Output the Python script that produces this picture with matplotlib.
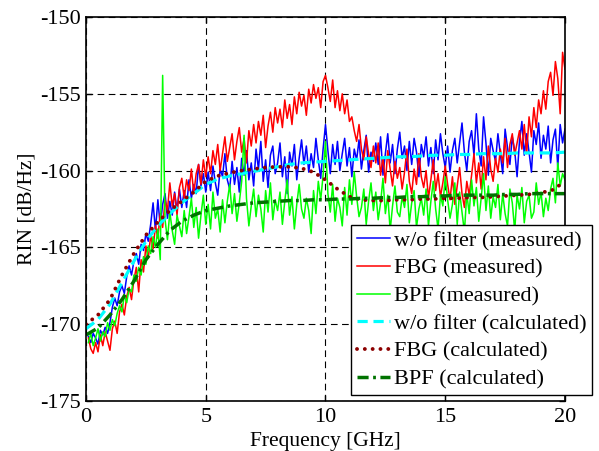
import matplotlib
matplotlib.use("Agg")
import matplotlib.pyplot as plt
import numpy as np

plt.rcParams['font.family'] = ['Liberation Serif', 'DejaVu Serif']
plt.rcParams['axes.unicode_minus'] = False

# измеренные спектры RIN, шаг 0.1 ГГц (0.1 ... 20.0)
f_meas = np.arange(1, 201) / 10.0

rin_wo_meas = [
    -170.8, -171.2, -170.6, -170.9, -171.3, -170.4, -170.7, -170.2, -170.6, -169.9,
    -168.9, -168.3, -168.8, -167.9, -167.5, -168.0, -166.9, -166.2, -166.8, -165.9,
    -165.4, -166.1, -164.8, -165.2, -164.1, -164.6, -163.5, -162.1, -163.9, -161.9,
    -163.6, -162.2, -161.5, -163.1, -162.0, -162.9, -161.4, -162.6, -161.2, -162.4,
    -161.3, -162.4, -160.6, -161.8, -160.9, -161.5, -159.6, -161.0, -160.2, -161.4,
    -160.1, -161.3, -159.7, -160.8, -161.6, -159.9, -160.4, -158.9, -160.6, -161.2,
    -159.4, -160.9, -159.8, -161.4, -159.2, -160.3, -158.7, -160.6, -159.5, -161.0,
    -158.6, -159.9, -158.1, -160.7, -159.3, -161.1, -159.0, -158.4, -160.2, -159.5,
    -158.2, -160.4, -159.1, -161.5, -158.8, -159.7, -158.3, -160.6, -159.2, -158.0,
    -159.6, -158.4, -160.1, -158.9, -159.8, -157.9, -159.3, -160.5, -158.6, -157.0,
    -158.7, -160.2, -158.3, -159.6, -158.1, -160.0, -158.9, -157.9, -159.7, -158.5,
    -160.4, -158.6, -159.3, -158.0, -159.9, -158.7, -157.7, -160.1, -158.8, -159.4,
    -158.2, -159.6, -157.8, -160.3, -158.9, -157.6, -159.5, -158.3, -160.2, -158.6,
    -157.5, -159.2, -158.4, -160.0, -158.1, -159.6, -157.9, -158.8, -160.4, -158.3,
    -159.1, -157.8, -159.7, -158.5, -160.2, -158.0, -159.3, -157.6, -158.9, -159.8,
    -158.4, -160.1, -158.7, -157.9, -159.5, -158.2, -156.9, -158.8, -160.0, -158.1,
    -157.4, -159.0, -156.3, -158.6, -159.7, -156.5, -158.2, -160.3, -157.9, -158.7,
    -159.4, -157.6, -158.9, -160.2, -157.3, -158.5, -159.6, -157.8, -158.7, -160.4,
    -158.1, -156.8, -159.0, -157.6, -158.8, -160.1, -157.4, -158.3, -156.9, -159.2,
    -157.7, -158.6, -157.1, -159.5, -158.0, -157.3, -159.8, -157.0, -158.2, -157.3,
]

rin_fbg_meas = [
    -170.9, -171.6, -171.9, -171.2, -171.8, -170.7, -171.4, -170.5, -171.1, -171.7,
    -170.3, -169.8, -170.6, -169.2, -168.7, -169.4, -168.2, -167.6, -168.4, -167.1,
    -166.3, -167.9, -165.8, -166.6, -164.9, -165.7, -164.2, -165.1, -163.6, -164.4,
    -162.8, -163.7, -161.9, -162.6, -160.8, -162.3, -161.5, -162.9, -161.1, -160.5,
    -161.8, -160.6, -161.3, -159.9, -161.5, -160.2, -159.6, -160.9, -159.3, -160.4,
    -159.1, -160.2, -158.7, -159.6, -158.3, -160.0, -158.9, -157.8, -159.4, -158.5,
    -157.6, -159.3, -158.1, -157.2, -158.8, -157.9, -159.5, -157.4, -158.4, -157.0,
    -158.2, -156.8, -157.7, -156.4, -158.5, -157.1, -156.2, -157.5, -155.9, -156.9,
    -156.0, -157.2, -155.4, -156.6, -155.7, -157.0, -155.2, -156.3, -154.9, -155.8,
    -155.1, -156.4, -154.7, -155.6, -154.4, -155.3, -154.6, -155.9, -154.2, -153.8,
    -154.6, -155.5, -154.1, -155.9, -154.8, -156.1, -155.0, -156.3, -155.4, -156.8,
    -156.5, -157.4, -158.1, -157.0, -158.6, -159.3, -157.8, -158.9, -159.8, -158.4,
    -159.5, -158.2, -160.3, -159.1, -160.8, -158.7, -159.9, -161.0, -159.4, -160.5,
    -159.8, -161.2, -160.1, -158.6, -160.7, -161.5, -159.9, -160.9, -158.9, -160.4,
    -161.1, -160.0, -161.8, -160.6, -159.3, -161.3, -160.2, -161.7, -160.8, -159.7,
    -160.9, -161.9, -160.4, -162.2, -161.0, -159.8, -161.5, -162.4, -160.7, -161.6,
    -160.3, -158.9, -160.8, -159.5, -161.2, -159.1, -160.6, -158.4, -159.9, -160.7,
    -159.2, -160.1, -158.6, -159.5, -157.9, -159.8, -158.3, -157.6, -159.0, -158.2,
    -157.4, -158.6, -157.0, -158.9, -156.5, -157.8, -155.9, -157.2, -155.4, -156.3,
    -154.8, -156.0, -154.2, -153.6, -155.1, -152.9, -154.0, -156.3, -152.3, -153.4,
]

rin_bpf_meas = [
    -171.2, -170.6, -171.4, -170.9, -170.3, -171.1, -170.5, -170.8, -169.9, -170.4,
    -169.7, -170.1, -169.3, -168.8, -169.2, -168.1, -168.6, -167.7, -167.9, -166.8,
    -167.2, -166.3, -166.8, -165.6, -166.1, -164.9, -165.4, -164.3, -165.0, -163.8,
    -165.8, -153.8, -163.2, -164.5, -162.7, -163.9, -164.8, -162.9, -163.6, -164.3,
    -162.6, -164.1, -163.0, -161.8, -163.7, -162.4, -164.4, -162.9, -161.6, -163.5,
    -162.2, -163.8, -161.4, -163.1, -162.5, -164.0, -161.9, -163.4, -162.0, -160.9,
    -162.8, -161.5, -163.3, -162.1, -160.7, -157.7, -161.8, -163.6, -162.3, -161.2,
    -163.0, -161.6, -162.5, -164.0, -161.3, -162.7, -160.8, -163.2, -161.9, -162.6,
    -161.4, -163.5, -162.0, -160.6, -162.9, -161.7, -163.8, -162.2, -160.9, -162.5,
    -163.1, -161.8, -162.6, -164.1, -161.3, -162.8, -160.7, -161.9, -160.3, -158.1,
    -161.5, -162.7, -160.9, -163.3, -161.8, -162.4, -163.6, -161.1, -162.9, -160.6,
    -162.2, -160.1, -161.7, -163.0, -162.4, -161.2, -163.5, -162.0, -160.8, -162.6,
    -161.4, -163.2, -162.1, -160.5, -162.8, -161.6, -163.9, -162.3, -161.0, -162.7,
    -163.0, -161.7, -162.4, -160.9, -163.4, -162.1, -161.3, -163.7, -162.5, -161.8,
    -162.9, -161.2, -163.6, -162.0, -160.7, -162.5, -163.8, -161.6, -162.3, -160.4,
    -161.9, -163.1, -162.2, -160.8, -163.5, -161.4, -162.7, -164.0, -161.5, -162.8,
    -160.6, -162.3, -161.1, -163.3, -161.8, -160.2, -162.6, -161.0, -163.1, -161.7,
    -162.4, -160.9, -163.2, -161.5, -162.8, -163.6, -161.2, -162.1, -163.9, -161.6,
    -162.5, -161.1, -163.4, -162.0, -161.6, -163.1, -162.7, -160.8, -162.2, -161.4,
    -163.0, -161.8, -162.6, -161.2, -160.5, -162.1, -159.5, -161.0, -160.2, -160.6,
]

# расчётные кривые, шаг 0.5 ГГц (0 ... 20)
f_calc = np.arange(41) * 0.5

rin_wo_calc = [
    -170.3, -169.7, -168.7, -167.3, -165.9, -164.6, -163.6, -162.8, -162.1, -161.5,
    -160.9, -160.55, -160.35, -160.2, -160.05, -159.9, -159.75, -159.6, -159.5, -159.45,
    -159.4, -159.35, -159.3, -159.25, -159.2, -159.15, -159.1, -159.1, -159.05, -159.0,
    -159.0, -158.95, -158.95, -158.9, -158.9, -158.9, -158.85, -158.85, -158.85, -158.85,
    -158.8,
]
rin_fbg_calc = [
    -170.0, -169.4, -168.4, -166.8, -165.4, -164.2, -163.35, -162.6, -162.0, -161.4,
    -160.7, -160.35, -160.15, -160.0, -159.9, -159.8, -159.75, -159.75, -159.85, -160.1,
    -160.6, -161.2, -161.7, -161.9, -161.95, -161.95, -161.9, -161.9, -161.85, -161.85,
    -161.8, -161.8, -161.75, -161.75, -161.7, -161.65, -161.6, -161.55, -161.45, -161.25,
    -160.7,
]
rin_bpf_calc = [
    -170.7, -170.25, -169.4, -168.4, -167.2, -165.8, -164.8, -163.9, -163.3, -162.9,
    -162.6, -162.45, -162.3, -162.2, -162.1, -162.05, -162.0, -161.95, -161.95, -161.9,
    -161.9, -161.85, -161.85, -161.8, -161.8, -161.75, -161.75, -161.7, -161.7, -161.65,
    -161.65, -161.6, -161.6, -161.6, -161.6, -161.55, -161.55, -161.5, -161.5, -161.5,
    -161.5,
]

labels = ['w/o filter (measured)', 'FBG (measured)', 'BPF (measured)',
          'w/o filter (calculated)', 'FBG (calculated)', 'BPF (calculated)']

fig = plt.figure(figsize=(5.99, 4.51), dpi=100)
ax = fig.add_axes([0.1436, 0.1109, 0.7996, 0.8514])

# измеренные
ax.plot(f_meas, rin_wo_meas, color=(0, 0, 1), lw=1.1, label=labels[0])
ax.plot(f_meas, rin_fbg_meas, color=(1, 0, 0), lw=1.1, label=labels[1])
ax.plot(f_meas, rin_bpf_meas, color=(0, 1, 0), lw=1.1, label=labels[2])

# расчётные
ax.plot(f_calc, rin_wo_calc, color=(0, 1, 1), lw=2.3, dashes=(3.2, 1.8), label=labels[3])
ax.plot(f_calc, rin_fbg_calc, color=(0.55, 0, 0), lw=2.8, dashes=(0.01, 2.0),
        dash_capstyle='round', label=labels[4])
ax.plot(f_calc, rin_bpf_calc, color=(0, 0.45, 0), lw=2.5, dashes=(3.2, 1.3, 0.8, 1.3),
        label=labels[5])

ax.set_xlim(0, 20)
ax.set_ylim(-175, -150)
ax.set_xticks([0, 5, 10, 15, 20])
ax.set_yticks([-175, -170, -165, -160, -155, -150])
ax.grid(True, color='black', lw=0.8, dashes=(6, 4))
ax.set_axisbelow(True)
ax.tick_params(direction='in', top=True, right=True, labelsize=16, length=4, width=1)
ax.tick_params(axis='x', pad=5)
for s in ax.spines.values():
    s.set_linewidth(1.2)

ax.set_xlabel('Frequency [GHz]', fontsize=15.5, labelpad=4)
ax.set_ylabel('RIN [dB/Hz]', fontsize=15.5, labelpad=3)

leg = ax.legend(loc='lower right', bbox_to_anchor=(0.988, 0.124),
                bbox_transform=fig.transFigure, fontsize=16, fancybox=False,
                framealpha=1, edgecolor='black', handlelength=1.5,
                handletextpad=0.15, borderpad=0.25, labelspacing=0.32,
                borderaxespad=0)
leg.get_frame().set_linewidth(1.0)

fig.savefig('out.png', dpi=100)
